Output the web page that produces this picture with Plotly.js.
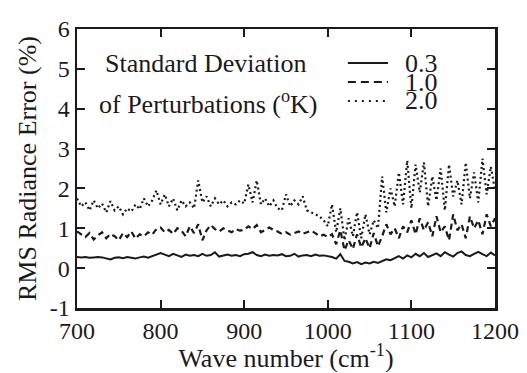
<!DOCTYPE html>
<html>
<head>
<meta charset="utf-8">
<script src="https://cdn.plot.ly/plotly-3.0.1.min.js"></script>
<style>html,body{margin:0;padding:0;background:#fff;}#chart{width:527px;height:373px;}</style>
</head>
<body>
<div id="chart"></div>
<script>
// Wave number grid (cm^-1)
const waveNumber = [
  700,705,710,715,720,725,730,735,740,745,750,755,760,765,770,775,780,785,790,
  795,800,805,810,815,820,825,830,835,840,845,850,855,860,865,870,875,880,885,890,895,900,
  905,910,915,920,925,930,935,940,945,950,955,960,965,970,975,980,985,990,995,1000,
  1005,1010,1015,1020,1025,1030,1035,1040,1045,1050,1055,1060,
  1065,1070,1075,1080,1085,1090,1095,1100,1105,1110,1115,1120,1125,1130,1135,1140,1145,1150,1155,1160,1165,1170,1175,1180,1185,1190,1195,1200
];
// RMS radiance error (%) for perturbation std dev 0.3 K
const err03 = [
  0.28,0.27,0.28,0.26,0.27,0.28,0.27,0.25,0.22,0.26,0.27,0.25,0.28,0.26,0.24,0.27,0.29,0.26,0.30,
  0.33,0.38,0.34,0.30,0.36,0.32,0.28,0.34,0.31,0.33,0.30,0.36,0.31,0.33,0.40,0.29,0.32,0.34,0.31,0.33,0.30,0.35,
  0.36,0.40,0.33,0.30,0.34,0.31,0.33,0.32,0.35,0.30,0.31,0.36,0.29,0.32,0.33,0.30,0.34,0.31,0.32,0.30,
  0.28,0.24,0.35,0.18,0.16,0.12,0.15,0.10,0.14,0.12,0.16,0.13,
  0.18,0.22,0.20,0.26,0.30,0.24,0.32,0.27,0.36,0.30,0.38,0.28,0.33,0.37,0.30,0.40,0.34,0.29,0.38,0.42,0.33,0.30,0.36,0.41,0.35,0.30,0.39,0.32
];
// RMS radiance error (%) for perturbation std dev 1.0 K
const err10 = [
  0.92,0.85,0.78,0.88,0.72,0.82,0.90,0.75,0.86,0.80,0.70,0.88,0.78,0.92,0.74,0.85,0.80,0.90,0.84,
  0.98,1.02,0.90,0.96,0.86,1.00,0.94,0.80,1.05,0.88,1.10,0.70,0.95,1.08,0.98,0.92,1.00,0.96,0.90,0.98,0.94,0.96,
  1.05,0.98,1.08,0.90,0.95,1.02,0.96,0.92,0.86,0.90,0.84,0.88,0.92,0.86,0.90,0.94,0.88,0.80,0.84,0.78,
  0.85,0.60,0.95,0.45,0.70,0.48,0.85,0.52,0.75,0.50,0.88,0.55,
  0.80,1.10,0.85,1.00,0.75,1.05,0.90,1.20,0.85,1.25,0.95,1.15,0.80,1.30,0.90,1.05,0.70,1.35,0.95,1.10,0.75,1.30,1.00,1.20,0.85,1.35,1.05,1.25
];
// RMS radiance error (%) for perturbation std dev 2.0 K
const err20 = [
  1.75,1.55,1.65,1.45,1.70,1.50,1.62,1.40,1.68,1.45,1.55,1.35,1.50,1.42,1.60,1.48,1.75,1.55,1.70,
  1.95,1.60,1.85,1.55,1.75,1.45,1.70,1.55,1.65,1.50,2.20,1.65,1.80,1.55,1.75,1.60,1.70,1.55,1.65,1.60,1.70,1.62,
  2.10,1.65,2.20,1.60,1.75,1.55,1.70,1.50,1.45,1.85,1.55,1.70,1.60,1.80,1.45,1.40,1.35,1.30,1.20,1.05,
  1.60,0.90,1.50,0.70,1.25,0.80,1.40,0.75,1.35,0.85,1.20,1.00,
  2.30,1.40,2.00,1.55,2.40,1.60,2.70,1.50,2.60,1.90,2.65,1.55,2.30,1.70,2.50,1.45,2.60,1.80,2.20,1.60,2.65,1.75,2.40,1.65,2.75,1.85,2.55,1.95
];
const seriesNames = ['0.3','1.0','2.0'];
const xTicks = [700,800,900,1000,1100,1200];
const yTicks = [-1,0,1,2,3,4,5,6];

const ink = '#1a1a1a';
const serif = 'Liberation Serif, Times New Roman, serif';
const dashes = ['solid','6px,4px','2px,3px'];
const legDashes = ['solid','8px,5px','2px,5px'];
const ys = [err03, err10, err20];

const traces = ys.map((y,i)=>({
  x: waveNumber, y: y, type:'scatter', mode:'lines', name: seriesNames[i],
  line:{color:ink, width: i===0?2:2.2, dash: dashes[i]}, showlegend:false
}));

// manual legend
const legY = [0.878, 0.810, 0.742];
const shapes = legY.map((yy,i)=>({
  type:'line', xref:'paper', yref:'paper', x0:0.648, x1:0.744, y0:yy, y1:yy,
  line:{color:ink, width:2, dash:legDashes[i]}
}));
const annotations = [
  {text:'Standard Deviation', xref:'paper', yref:'paper', x:0.062, y:0.878, xanchor:'left', yanchor:'middle', showarrow:false, font:{family:serif,size:26,color:ink}},
  {text:'of Perturbations (<sup>o</sup>K)', xref:'paper', yref:'paper', x:0.048, y:0.735, xanchor:'left', yanchor:'middle', showarrow:false, font:{family:serif,size:26,color:ink}}
].concat(seriesNames.map((n,i)=>({
  text:n, xref:'paper', yref:'paper', x:0.780, y:legY[i], xanchor:'left', yanchor:'middle', showarrow:false, font:{family:serif,size:26,color:ink}
})));

const layout = {
  width:527, height:373,
  margin:{l:77, r:32, t:29, b:65},
  paper_bgcolor:'#fff', plot_bgcolor:'#fff',
  font:{family:serif, color:ink},
  xaxis:{range:[700,1200], tickvals:xTicks, ticktext:xTicks.map(String), ticks:'inside', ticklen:8, tickwidth:2, tickcolor:ink,
    showline:true, linewidth:2.5, linecolor:ink, mirror:'ticks', showgrid:false, zeroline:false,
    tickfont:{family:serif,size:24,color:ink},
    title:{text:'Wave number (cm<sup>-1</sup>)', font:{family:serif,size:26,color:ink}, standoff:8}},
  yaxis:{range:[-1,6], tickvals:yTicks, ticktext:yTicks.map(String), ticks:'inside', ticklen:8, tickwidth:2, tickcolor:ink,
    showline:true, linewidth:2.5, linecolor:ink, mirror:'ticks', showgrid:false, zeroline:false,
    tickfont:{family:serif,size:24,color:ink},
    title:{text:'RMS Radiance Error (%)', font:{family:serif,size:26,color:ink}, standoff:6}},
  shapes: shapes,
  annotations: annotations,
  showlegend:false
};
Plotly.newPlot('chart', traces, layout, {staticPlot:true, displayModeBar:false});
</script>
</body>
</html>
